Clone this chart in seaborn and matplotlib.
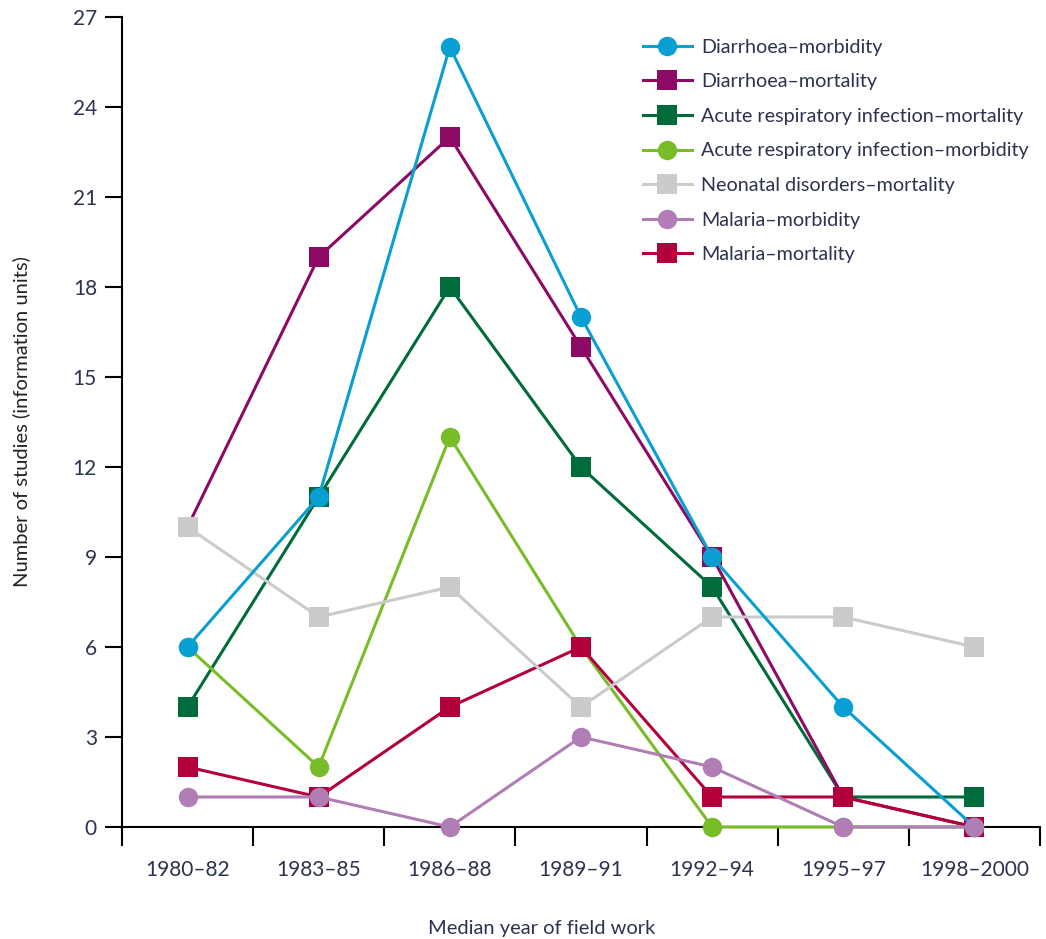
import seaborn as sns
import matplotlib.pyplot as plt
from matplotlib.ticker import MultipleLocator
import pandas as pd

periods = ["1980–82", "1983–85", "1986–88", "1989–91", "1992–94", "1995–97", "1998–2000"]

diarrhoea_morbidity = [6, 11, 26, 17, 9, 4, 0]
diarrhoea_mortality = [10, 19, 23, 16, 9, 1, 0]
ari_mortality = [4, 11, 18, 12, 8, 1, 1]
ari_morbidity = [6, 2, 13, 6, 0, 0, 0]
neonatal_mortality = [10, 7, 8, 4, 7, 7, 6]
malaria_morbidity = [1, 1, 0, 3, 2, 0, 0]
malaria_mortality = [2, 1, 4, 6, 1, 1, 0]

series_names = [
    "Diarrhoea–morbidity",
    "Diarrhoea–mortality",
    "Acute respiratory infection–mortality",
    "Acute respiratory infection–morbidity",
    "Neonatal disorders–mortality",
    "Malaria–morbidity",
    "Malaria–mortality",
]
series_values = [diarrhoea_morbidity, diarrhoea_mortality, ari_mortality, ari_morbidity,
                 neonatal_mortality, malaria_morbidity, malaria_mortality]
colors = ["#0a9fd2", "#8c0a64", "#006b3b", "#78bd28", "#c9cbcd", "#b07db5", "#b3003c"]
markers = ["o", "s", "s", "o", "s", "o", "s"]
zorders = [9, 5, 4, 6, 7, 10, 6.5]

rows = []
for name, vals in zip(series_names, series_values):
    for p, v in zip(periods, vals):
        rows.append({"period": p, "count": v, "series": name})
df = pd.DataFrame(rows)

plt.rcParams["font.family"] = ["Lato", "DejaVu Sans"]
text_col = "#2b3350"

fig = plt.figure(figsize=(10.46, 9.39), dpi=100)
ax = fig.add_axes([0.1166, 0.1193, 0.8776, 0.8626])

for name, col, mk, z in zip(series_names, colors, markers, zorders):
    sub = df[df["series"] == name]
    sns.lineplot(data=sub, x="period", y="count", ax=ax, color=col, marker=mk,
                 markersize=14, markeredgewidth=0, linewidth=2.2, label=name,
                 zorder=z, clip_on=False, sort=False)

ax.set_xlim(-0.5, 6.5)
ax.set_ylim(0, 27)
ax.yaxis.set_major_locator(MultipleLocator(3))
ax.set_xticks(range(len(periods)))
ax.set_xticklabels(periods)
ax.set_xticks([i - 0.5 for i in range(len(periods) + 1)], minor=True)
ax.tick_params(axis="x", which="major", length=0, pad=24, labelsize=15, labelcolor=text_col)
ax.tick_params(axis="x", which="minor", length=14, width=1.5, direction="out")
ax.tick_params(axis="y", length=12, width=1.5, direction="out", labelsize=15, labelcolor=text_col, pad=6)

for s in ["top", "right"]:
    ax.spines[s].set_visible(False)
for s in ["left", "bottom"]:
    ax.spines[s].set_linewidth(1.5)

ax.set_ylabel("Number of studies (information units)", fontsize=14.5, color="#222222")
ax.yaxis.set_label_coords(-0.1, 0.5)
ax.set_xlabel("Median year of field work", fontsize=14.5, color=text_col)
ax.xaxis.set_label_coords(0.457, -0.115)

leg = ax.legend(loc="upper left", bbox_to_anchor=(0.548, 0.995), frameon=False, fontsize=14.2,
                handlelength=2.5, labelspacing=0.89, handletextpad=0.45)
for t in leg.get_texts():
    t.set_color(text_col)

plt.savefig("out.png", dpi=100)
